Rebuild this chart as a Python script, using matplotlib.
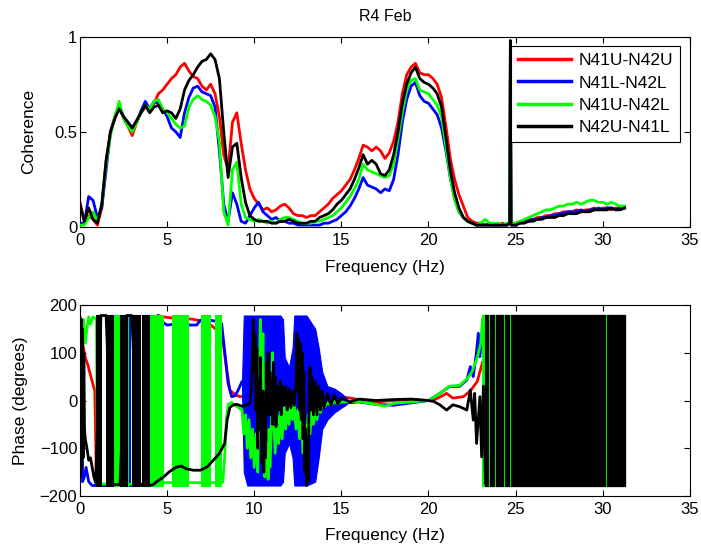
import numpy as np
import matplotlib
matplotlib.use("Agg")
import matplotlib.pyplot as plt

plt.rcParams['font.family'] = ['Liberation Sans', 'DejaVu Sans']
plt.rcParams['font.size'] = 12.5

# ---------------- data ----------------
labels = ["N41U-N42U", "N41L-N42L", "N41U-N42L", "N42U-N41L"]
colors = ["#ff0000", "#0000ff", "#00ff00", "#000000"]

# coherence sampled every 0.25 Hz from 0 to 31.25 Hz
coh_freq = np.round(np.arange(0, 31.26, 0.25), 2)

coh_red = [
    0.13, 0.03, 0.06, 0.04, 0.01, 0.10, 0.35, 0.50,
    0.58, 0.64, 0.57, 0.53, 0.48, 0.55, 0.60, 0.63,
    0.61, 0.65, 0.70, 0.72, 0.75, 0.78, 0.80, 0.84,
    0.86, 0.82, 0.79, 0.78, 0.74, 0.72, 0.75, 0.70,
    0.58, 0.38, 0.30, 0.55, 0.60, 0.44, 0.30, 0.20,
    0.15, 0.12, 0.09, 0.10, 0.08, 0.09, 0.11, 0.12,
    0.10, 0.07, 0.06, 0.06, 0.05, 0.06, 0.06, 0.08,
    0.10, 0.12, 0.15, 0.17, 0.19, 0.22, 0.25, 0.30,
    0.36, 0.43, 0.42, 0.40, 0.42, 0.40, 0.36, 0.39,
    0.45, 0.55, 0.70, 0.80, 0.84, 0.86, 0.81, 0.80,
    0.80, 0.78, 0.75, 0.68, 0.53, 0.36, 0.25, 0.17,
    0.11, 0.05, 0.03, 0.02, 0.02, 0.01, 0.02, 0.01,
    0.01, 0.02, 0.01, 0.02, 0.02, 0.03, 0.03, 0.04,
    0.04, 0.05, 0.05, 0.06, 0.06, 0.07, 0.07, 0.08,
    0.08, 0.08, 0.09, 0.08, 0.09, 0.09, 0.10, 0.09,
    0.10, 0.10, 0.09, 0.10, 0.10, 0.10]
coh_blue = [
    0.02, 0.02, 0.16, 0.14, 0.05, 0.10, 0.30, 0.50,
    0.57, 0.64, 0.58, 0.55, 0.52, 0.55, 0.61, 0.66,
    0.62, 0.66, 0.65, 0.62, 0.58, 0.52, 0.50, 0.47,
    0.60, 0.68, 0.73, 0.74, 0.71, 0.70, 0.69, 0.63,
    0.40, 0.12, 0.03, 0.18, 0.12, 0.03, 0.02, 0.06,
    0.10, 0.13, 0.08, 0.06, 0.04, 0.05, 0.03, 0.03,
    0.02, 0.02, 0.01, 0.01, 0.01, 0.01, 0.01, 0.01,
    0.02, 0.02, 0.03, 0.04, 0.06, 0.08, 0.11, 0.15,
    0.20, 0.26, 0.22, 0.21, 0.20, 0.18, 0.20, 0.19,
    0.25, 0.38, 0.55, 0.67, 0.74, 0.76, 0.69, 0.66,
    0.65, 0.62, 0.59, 0.52, 0.40, 0.26, 0.15, 0.08,
    0.05, 0.03, 0.02, 0.01, 0.01, 0.01, 0.01, 0.01,
    0.01, 0.01, 0.01, 0.01, 0.01, 0.02, 0.03, 0.03,
    0.04, 0.04, 0.05, 0.05, 0.06, 0.06, 0.07, 0.07,
    0.08, 0.08, 0.08, 0.09, 0.08, 0.09, 0.09, 0.10,
    0.09, 0.10, 0.10, 0.09, 0.10, 0.10]
coh_green = [
    0.01, 0.01, 0.05, 0.08, 0.03, 0.12, 0.33, 0.48,
    0.58, 0.66, 0.57, 0.53, 0.50, 0.55, 0.60, 0.64,
    0.62, 0.66, 0.67, 0.62, 0.60, 0.57, 0.54, 0.52,
    0.53, 0.63, 0.67, 0.69, 0.67, 0.66, 0.64, 0.58,
    0.45, 0.08, 0.01, 0.30, 0.34, 0.12, 0.05, 0.04,
    0.03, 0.04, 0.03, 0.02, 0.03, 0.02, 0.04, 0.05,
    0.05, 0.04, 0.03, 0.02, 0.02, 0.02, 0.03, 0.03,
    0.04, 0.05, 0.06, 0.08, 0.10, 0.13, 0.16, 0.20,
    0.25, 0.33, 0.30, 0.29, 0.28, 0.27, 0.26, 0.27,
    0.33, 0.46, 0.60, 0.72, 0.77, 0.78, 0.72, 0.71,
    0.70, 0.67, 0.64, 0.58, 0.42, 0.26, 0.14, 0.08,
    0.05, 0.03, 0.02, 0.01, 0.02, 0.04, 0.02, 0.02,
    0.02, 0.01, 0.02, 0.02, 0.02, 0.03, 0.04, 0.05,
    0.06, 0.07, 0.08, 0.09, 0.09, 0.10, 0.11, 0.11,
    0.12, 0.12, 0.13, 0.12, 0.13, 0.14, 0.14, 0.13,
    0.13, 0.12, 0.13, 0.12, 0.11, 0.11]
coh_black = [
    0.12, 0.03, 0.10, 0.04, 0.02, 0.12, 0.35, 0.50,
    0.57, 0.62, 0.58, 0.55, 0.52, 0.56, 0.60, 0.64,
    0.60, 0.63, 0.64, 0.60, 0.61, 0.60, 0.57, 0.62,
    0.72, 0.77, 0.80, 0.84, 0.87, 0.88, 0.91, 0.88,
    0.78, 0.50, 0.26, 0.42, 0.44, 0.26, 0.13, 0.06,
    0.04, 0.03, 0.03, 0.03, 0.02, 0.02, 0.03, 0.03,
    0.04, 0.03, 0.02, 0.02, 0.02, 0.03, 0.03, 0.05,
    0.06, 0.07, 0.09, 0.12, 0.14, 0.17, 0.20, 0.25,
    0.31, 0.38, 0.33, 0.35, 0.33, 0.28, 0.27, 0.30,
    0.38, 0.50, 0.65, 0.75, 0.81, 0.84, 0.78, 0.76,
    0.75, 0.73, 0.70, 0.63, 0.47, 0.30, 0.18, 0.10,
    0.05, 0.03, 0.02, 0.01, 0.01, 0.01, 0.01, 0.01,
    0.01, 0.01, 0.01, 0.01, 0.01, 0.02, 0.02, 0.03,
    0.03, 0.04, 0.04, 0.05, 0.05, 0.05, 0.06, 0.06,
    0.07, 0.07, 0.07, 0.08, 0.08, 0.08, 0.09, 0.09,
    0.09, 0.09, 0.10, 0.09, 0.09, 0.10]

# narrow spike near 24.7 Hz
spike_freq = [24.66, 24.70, 24.74]
spike_red = [0.02, 0.90, 0.02]
spike_blue = [0.02, 0.90, 0.02]
spike_green = [0.02, 0.97, 0.02]
spike_black = [0.02, 0.98, 0.02]

# phase (degrees), knots
red_ph_f = [0.0, 0.1, 0.2, 0.3, 0.45, 0.55, 0.7, 0.85, 0.95, 1.2,
            4.4, 4.45, 5.0, 5.5, 6.0, 6.5, 7.0, 7.5, 7.75, 8.0,
            8.2, 8.4, 8.6, 8.9, 9.2, 10.0, 11.0, 12.0, 13.0, 14.0,
            15.0, 16.0, 17.0, 18.0, 19.0, 20.0, 20.3, 20.7, 21.04, 21.4,
            22.0, 22.4, 22.8, 23.1]
red_ph = [150, 130, 110, 90, 75, 60, 40, 20, -178, -178,
          -178, 178, 174, 172, 172, 170, 166, 158, 151, 138,
          126, 70, 22, 12, 8, 10, 5, 0, 5, 3,
          8, 2, -3, 0, 2, 0, 1, 8, 15, 5,
          8, 20, 40, 80]

blue_ph_f = [0.0, 0.05, 0.1, 0.15, 0.25, 0.35, 0.5, 0.7,
             4.45, 4.5, 4.7, 5.0, 5.5, 6.0, 6.3, 6.7, 6.9, 7.5,
             7.95, 8.13, 8.3, 8.5, 8.7, 8.9, 9.08, 9.3,
             15.3, 16.0, 17.0, 18.0, 19.0, 20.0,
             20.65, 21.2, 21.8, 22.2, 22.4, 22.57, 22.75, 22.86, 22.95, 23.1]
blue_ph = [170, -150, 150, -170, -160, -140, -170, -178,
           -178, 178, 165, 158, 160, 162, 158, 158, 168, 168,
           165, 161, 105, 36, 8, 10, 22, 40,
           -5, -3, -8, -10, -5, 0,
           15, 29, 30, 43, 71, 50, 100, 141, 92, 150]
# spread of the blue phase where it swings over the whole range
blue_env_f = [9.3, 9.4, 9.6, 9.8, 10.0, 10.5, 11.0, 11.5, 11.65, 11.75, 12.0,
              12.2, 12.3, 12.5, 13.0, 13.5, 13.7, 13.9, 14.2, 14.6, 15.0, 15.3]
blue_env_lo = [20, -150, -178, -178, -178, -178, -178, -178, -170, -110, -90,
               -120, -178, -178, -178, -170, -120, -60, -40, -25, -15, -8]
blue_env_hi = [40, 178, 178, 178, 178, 178, 178, 178, 170, 90, 70,
               110, 178, 178, 178, 150, 110, 60, 30, 25, 15, 5]

green_ph_f = [0.0, 0.1, 0.2, 0.3, 0.4, 0.5, 0.6, 0.75, 0.95, 1.0,
              4.55, 4.6, 8.12, 8.2, 8.3, 8.4, 8.5, 8.7, 8.9, 9.1,
              9.3, 9.4, 9.5, 9.6, 9.7, 9.8, 9.9, 10.0, 10.1, 10.2,
              10.3, 10.35, 10.4, 10.5, 10.55, 10.6, 10.7, 10.8, 10.85, 10.9,
              11.0, 11.05, 11.1, 11.2, 11.3, 11.4, 11.5, 11.6, 11.7, 11.8,
              11.9, 12.0, 12.1, 12.2, 12.3, 12.4, 12.5, 12.6, 12.7, 12.8,
              12.9, 13.0, 13.1, 13.2, 13.3, 13.4, 13.5, 13.6, 13.7, 13.8,
              13.9, 14.0, 14.2, 14.4, 14.6, 14.8, 15.0, 16.0, 17.0, 17.5,
              18.0, 19.0, 20.0, 20.65, 21.2, 21.8, 22.2, 22.5, 22.8, 23.0,
              23.1]
green_ph = [100, 150, 170, 120, 150, 175, 160, 175, 170, -175,
            -176, -172, -172, -170, -120, -40, -8, -4, -10, -15,
            -20, -70, -30, -100, -40, -120, -60, -140, -70, -150,
            60, 170, -30, 140, -60, -160, -90, -165, -60, -140,
            -40, 100, -20, -110, -30, -90, -20, -80, -10, -60,
            -10, -50, 0, -40, -10, -60, -20, -80, -30, -110,
            -50, -90, -30, -70, -20, -50, -10, -40, -5, -25,
            0, -15, -5, -10, -2, -8, -3, -2, -8, -12,
            -6, -3, 0, 15, 30, 32, 45, 60, 90, 120,
            170]

black_ph_f = [0.0, 0.03, 0.07, 0.1, 0.14, 0.18, 0.22, 0.26, 0.3, 0.4,
              0.5, 0.6, 0.7, 0.8, 0.9, 1.2, 1.5, 1.88, 2.3, 2.68,
              2.97, 3.43, 3.55, 3.98, 4.2, 4.4, 4.8, 5.1, 5.5, 5.8,
              6.1, 6.5, 6.9, 7.3, 7.65, 8.0, 8.3, 8.45, 8.6, 8.75,
              9.0, 9.3, 9.5, 9.75, 9.85, 9.95, 10.0, 10.05, 10.1, 10.15,
              10.2, 10.25, 10.3, 10.35, 10.4, 10.45, 10.5, 10.55, 10.6, 10.65,
              10.7, 10.75, 10.8, 10.85, 10.9, 10.95, 11.0, 11.05, 11.1, 11.15,
              11.2, 11.25, 11.3, 11.4, 11.5, 11.55, 11.6, 11.7, 11.8, 11.9,
              12.0, 12.1, 12.2, 12.3, 12.4, 12.45, 12.5, 12.55, 12.6, 12.65,
              12.7, 12.75, 12.8, 12.85, 12.9, 12.95, 13.0, 13.05, 13.1, 13.15,
              13.2, 13.25, 13.3, 13.4, 13.5, 13.6, 13.7, 13.8, 13.9, 14.0,
              14.2, 14.4, 14.6, 14.8, 15.0, 15.5, 16.0, 17.0, 18.0, 19.0,
              20.0, 20.3, 20.65, 21.04, 21.4, 21.8, 22.2, 22.4, 22.57, 22.65,
              22.76, 22.95, 23.05, 23.15, 23.27]
black_ph = [175, -160, 170, -140, 150, -120, 100, -60, -80, -100,
            -125, -120, -140, -160, -172, 178, 178, -176, -176, 178,
            178, -176, -176, -178, -176, -170, -160, -150, -140, -137,
            -143, -146, -146, -139, -125, -111, -90, -40, -15, -10,
            -8, -12, -10, -6, 30, 170, 60, 140, -20, 110,
            -100, 40, -60, 90, -40, -130, 20, -150, -20, -120,
            80, -30, 100, -20, 60, -30, 40, -50, 80, -40,
            50, -55, 30, -20, 40, -30, 30, -10, 30, -20,
            25, -15, 20, -10, 40, 140, 20, 130, -20, 120,
            -40, 100, -80, 60, -150, -60, -178, -100, -170, 20,
            70, -20, 50, -30, 40, -30, 30, -20, 20, -15,
            15, -10, 12, -8, 5, -3, 3, 0, 2, 3,
            0, -2, -9, -20, -9, -13, -20, 22, -41, 15,
            -90, 8, -118, 30, -173]

# frequency bands where the phase wraps back and forth between -180 and 180
red_wrap = [(23.2, 31.25)]
blue_wrap = [(2.28, 2.33), (2.76, 2.86), (4.22, 4.28), (23.12, 31.25)]
green_wrap = [(1.88, 2.25), (2.68, 2.75), (4.0, 4.55), (4.6, 4.78), (5.3, 6.2),
              (6.95, 7.45), (7.75, 8.12), (23.1, 31.25)]
black_wrap = [(0.92, 1.2), (1.5, 1.88), (2.3, 2.68), (2.97, 3.43), (3.55, 3.98),
              (23.27, 23.42), (23.52, 23.75), (23.85, 24.3), (24.38, 24.62),
              (24.72, 30.15), (30.25, 31.25)]


def with_spike(vals, spike):
    f = np.concatenate([coh_freq, spike_freq])
    v = np.concatenate([vals, spike])
    order = np.argsort(f, kind="stable")
    return f[order], v[order]


def style_axes(ax):
    ax.set_xlim(0, 35)
    ax.set_xticks(range(0, 36, 5))
    ax.tick_params(direction="in", top=True, right=True, length=4, width=0.8,
                   labelsize=12)
    ax.tick_params(axis="x", pad=4)
    ax.tick_params(axis="y", pad=2)
    for s in ax.spines.values():
        s.set_linewidth(0.8)


fig = plt.figure(figsize=(7.01, 5.47), dpi=100)
ax1 = fig.add_axes([0.1141, 0.585, 0.870, 0.348])
ax2 = fig.add_axes([0.1141, 0.0932, 0.870, 0.3492])

# ---- top: coherence ----
coh_all = [(coh_red, spike_red), (coh_blue, spike_blue),
           (coh_green, spike_green), (coh_black, spike_black)]
for i, (vals, spike) in enumerate(coh_all):
    f, v = with_spike(vals, spike)
    ax1.plot(f, v, color=colors[i], lw=2.0, label=labels[i], zorder=2 + i)

style_axes(ax1)
ax1.set_ylim(0, 1)
ax1.set_yticks([0, 0.5, 1])
ax1.set_yticklabels(["0", "0.5", "1"])
ax1.set_xlabel("Frequency (Hz)", labelpad=9)
ax1.set_ylabel("Coherence", labelpad=13)
ax1.set_title("R4 Feb", pad=11, fontsize=11.5)
leg = ax1.legend(loc="upper right", bbox_to_anchor=(680 / 701, 1 - 46 / 547),
                 bbox_transform=fig.transFigure, borderaxespad=0,
                 fancybox=False, framealpha=1, edgecolor="black",
                 handlelength=3.1, handletextpad=0.4, labelspacing=0.42,
                 borderpad=0.4)
leg.get_frame().set_linewidth(0.8)
leg.set_zorder(20)
for h in leg.get_lines():
    h.set_linewidth(2.5)

# ---- bottom: phase ----
ph_all = [(red_ph_f, red_ph, red_wrap), (blue_ph_f, blue_ph, blue_wrap),
          (green_ph_f, green_ph, green_wrap), (black_ph_f, black_ph, black_wrap)]
for i, (f, p, wraps) in enumerate(ph_all):
    z = 2 + i
    ax2.plot(f, p, color=colors[i], lw=2.0, zorder=z)
    for a, b in wraps:
        ax2.fill_between([a, b], -180, 180, color=colors[i], lw=0.8, zorder=z)
    if i == 1:
        ax2.fill_between(blue_env_f, blue_env_lo, blue_env_hi,
                         color=colors[i], lw=0.8, zorder=z)

style_axes(ax2)
ax2.set_ylim(-200, 200)
ax2.set_yticks([-200, -100, 0, 100, 200])
ax2.set_xlabel("Frequency (Hz)", labelpad=8)
ax2.set_ylabel("Phase (degrees)", labelpad=8)

fig.savefig("out.png", dpi=100)
